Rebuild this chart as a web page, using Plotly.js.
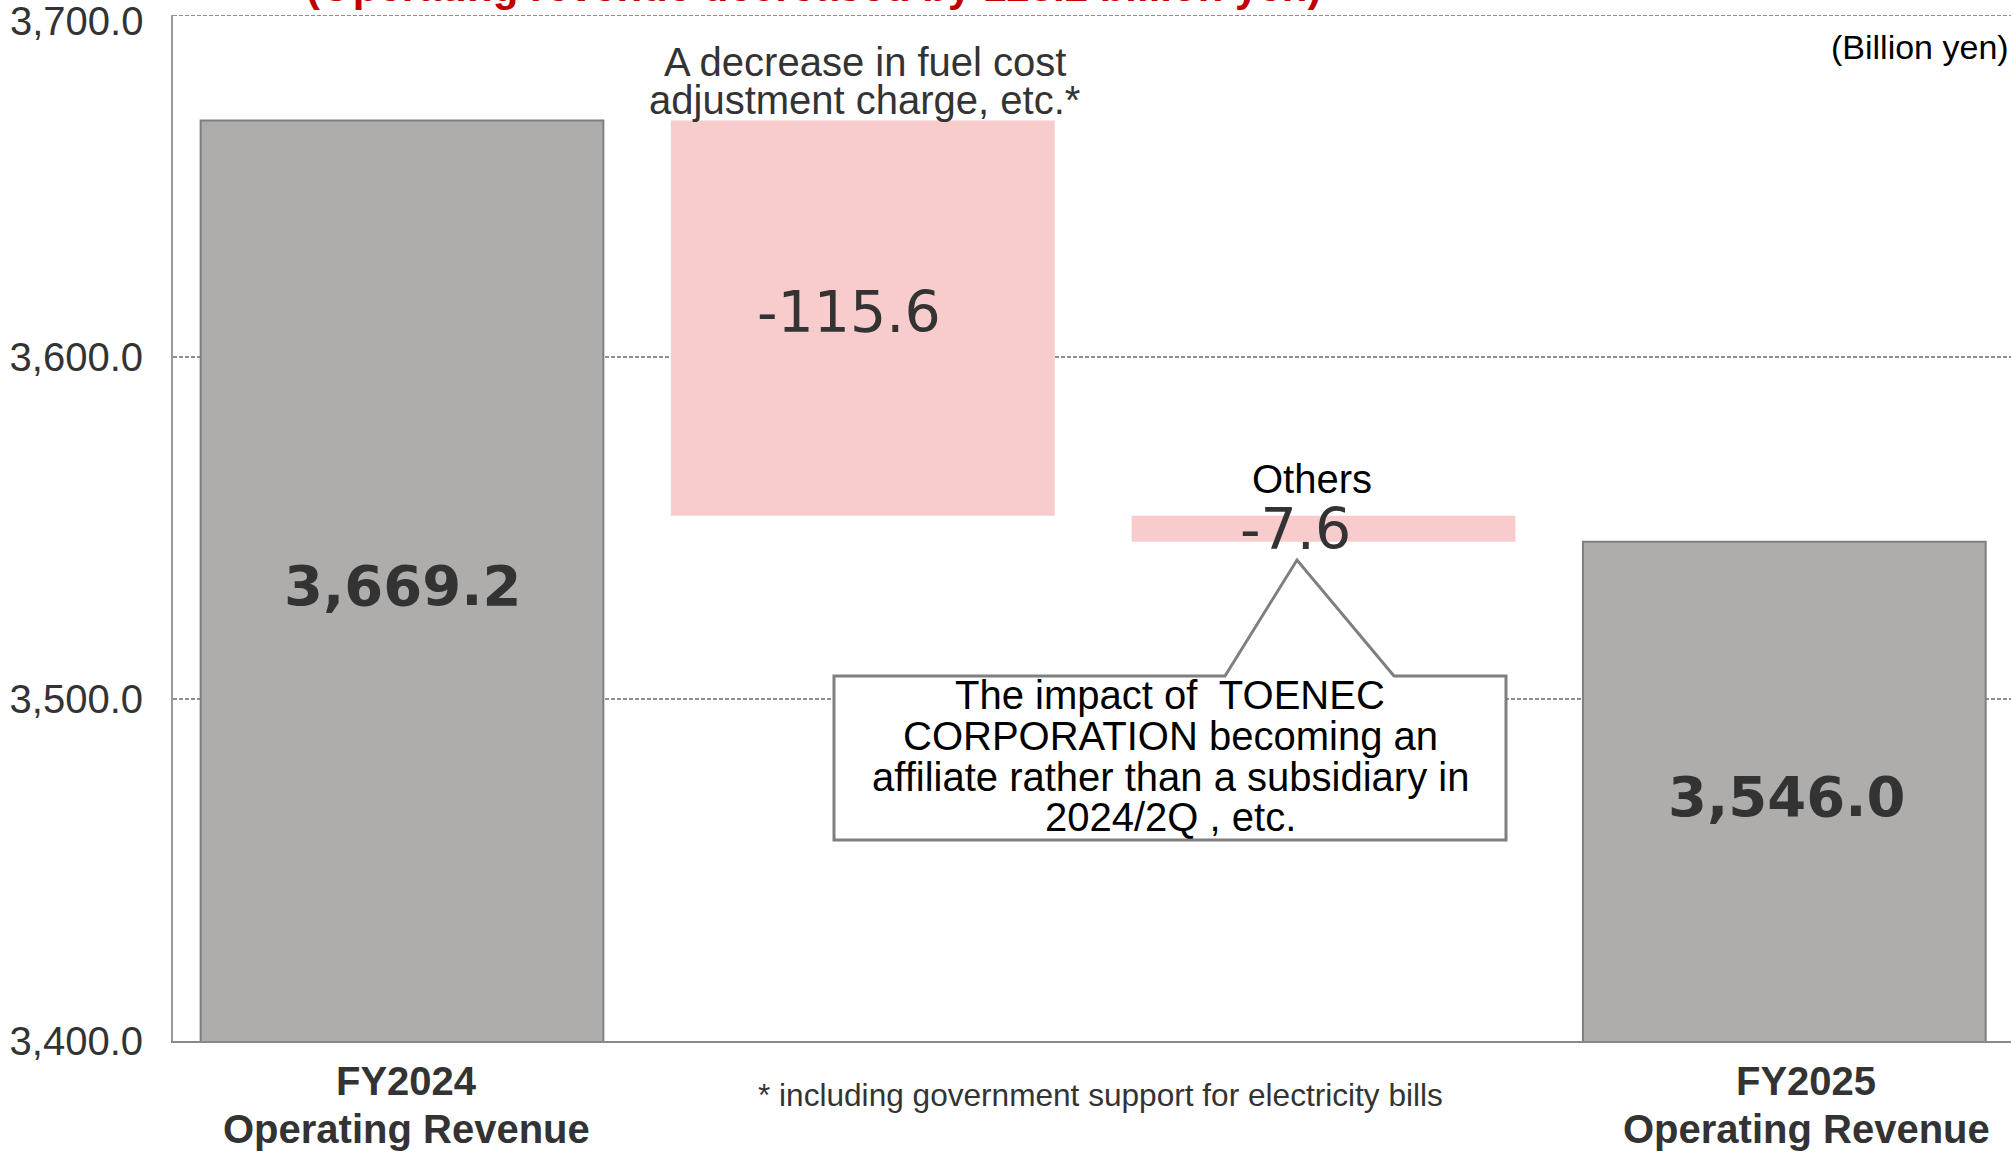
<!DOCTYPE html>
<html>
<head>
<meta charset="utf-8">
<script src="https://cdn.plot.ly/plotly-3.0.1.min.js"></script>
<style>html,body{margin:0;padding:0;background:#fff;}#chart{width:2011px;height:1152px;}</style>
</head>
<body>
<div id="chart"></div>
<script>
// ---- Data ----
const categories = ['FY2024 Operating Revenue', 'A decrease in fuel cost adjustment charge, etc.*', 'Others', 'FY2025 Operating Revenue'];
const startValue = 3669.2;          // FY2024 operating revenue (billion yen)
const changeValues = [-115.6, -7.6]; // factors
const endValue = 3546.0;            // FY2025 operating revenue (billion yen)
const tickValues = [3400, 3500, 3600, 3700];
const tickLabels = ['3,400.0', '3,500.0', '3,600.0', '3,700.0'];
const xTickLines = [['FY2024', 'Operating Revenue'], ['FY2025', 'Operating Revenue']];
const changeLabels = [['A decrease in fuel cost', 'adjustment charge, etc.*'], ['Others']];
const calloutLines = ['The impact of  TOENEC', 'CORPORATION becoming an', 'affiliate rather than a subsidiary in', '2024/2Q , etc.'];
const titleText = '(Operating revenue decreased by 123.2 billion yen)';
const unitText = '(Billion yen)';
const footnote = '* including government support for electricity bills';

// ---- Derived ----
const yMin = 3400, yMax = 3700;
const totalX = [0, categories.length - 1];
const totalY = [startValue, endValue];
const changeX = [], changeBase = [], changeH = [];
let running = startValue;
changeValues.forEach((c, i) => {
  const next = running + c;
  changeX.push(i + 1);
  changeBase.push(Math.min(running, next));
  changeH.push(Math.abs(c));
  running = next;
});

const fmt = v => v.toLocaleString('en-US', {minimumFractionDigits: 1, maximumFractionDigits: 1});

// plot geometry (for decoration placement)
const M = {l: 173, r: 0, t: 15, b: 111};
const W = 2011, H = 1152;
const pw = W - M.l - M.r, ph = H - M.t - M.b;
const yTop = yMax + 0.05;
const xRange = [-0.497, 3.492];
const px2x = px => xRange[0] + (px - M.l) / pw * (xRange[1] - xRange[0]);
const py2y = py => yMin + (H - M.b - py) / ph * (yTop - yMin);

const traces = [
  {
    type: 'bar', x: totalX, y: totalY, width: 0.874,
    marker: {color: '#AEADAB', line: {color: '#7F7F7F', width: 2}},
    hoverinfo: 'skip', showlegend: false
  },
  {
    type: 'bar', x: changeX, y: changeH, base: changeBase, width: 0.833,
    marker: {color: '#F8CBCD', line: {width: 0}},
    hoverinfo: 'skip', showlegend: false
  }
];

const annotations = [];
const numFont = {family: 'DejaVu Sans', color: '#333333'};
const sans = 'Liberation Sans, Arial';
const tickFont = {family: sans, size: 40, color: '#333333'};
// top tick label kept inside the canvas (as in the reference)
const topIdx = tickValues.length - 1;
annotations.push({
  x: 0, y: tickValues[topIdx], xref: 'paper', yref: 'y', xanchor: 'right', yanchor: 'middle',
  xshift: -28, yshift: -6, showarrow: false, text: tickLabels[topIdx], font: tickFont
});
const axisTickText = tickLabels.map((t, i) => i === topIdx ? '' : t);
// totals labels
totalX.forEach((x, i) => {
  annotations.push({
    x: x, y: (yMin + totalY[i]) / 2, xref: 'x', yref: 'y', showarrow: false,
    yshift: -5, xshift: i === 0 ? 0 : 2,
    text: fmt(totalY[i]), font: Object.assign({size: 56, weight: 'bold'}, numFont)
  });
  // category labels under axis
  xTickLines[i].forEach((ln, j) => {
    annotations.push({
      x: x, y: 0, xref: 'x', yref: 'paper', yanchor: 'middle', showarrow: false,
      yshift: -40 - j * 48, xshift: i === 0 ? 4 : 22,
      text: ln, font: {family: sans, size: 40, color: '#333333', weight: 'bold'}
    });
  });
});
// change labels
changeX.forEach((x, i) => {
  annotations.push({
    x: x, y: changeBase[i] + changeH[i] / 2, xref: 'x', yref: 'y', showarrow: false,
    xshift: i === 1 ? -28 : -14, yshift: i === 0 ? 6 : 0,
    text: fmt(changeValues[i]), font: Object.assign({size: 57}, numFont)
  });
  const top = changeBase[i] + changeH[i];
  const lines = changeLabels[i];
  lines.forEach((ln, j) => {
    const fromBottom = lines.length - 1 - j;
    annotations.push({
      x: x, y: top, xref: 'x', yref: 'y', showarrow: false, yanchor: 'middle',
      yshift: (i === 0 ? 20 : 37) + fromBottom * 38.5,
      xshift: i === 0 ? 2 : -12,
      text: ln, font: {family: sans, size: 40, color: i === 0 ? '#333333' : '#000000'}
    });
  });
});
// callout text
const calloutY = [695, 736, 777, 817];
calloutLines.forEach((ln, j) => {
  annotations.push({
    x: px2x(1170), y: py2y(calloutY[j]), xref: 'x', yref: 'y', showarrow: false,
    text: ln, font: {family: sans, size: 40, color: '#000000'}
  });
});
// title (partially cut at top)
annotations.push({
  x: px2x(813), y: 1, xref: 'x', yref: 'paper', yanchor: 'bottom', yshift: 3, showarrow: false,
  text: titleText, font: {family: sans, size: 42, weight: 'bold', color: '#C00000'}
});
// unit
annotations.push({
  x: 1, y: py2y(47), xref: 'paper', yref: 'y', xanchor: 'right', xshift: 0, showarrow: false,
  text: unitText, font: {family: sans, size: 34, color: '#000000'}
});
// footnote
annotations.push({
  x: px2x(1100), y: 0, xref: 'x', yref: 'paper', yanchor: 'middle', yshift: -54, showarrow: false,
  text: footnote, font: {family: sans, size: 31.6, color: '#333333'}
});

const calloutPts = [[834,676],[1225,676],[1297,560],[1394,676],[1506,676],[1506,840],[834,840]];
const path = 'M ' + calloutPts.map(p => px2x(p[0]) + ',' + py2y(p[1])).join(' L ') + ' Z';

const gridColor = '#8f8f8f';
const gridDash = '4px,2px';

const layout = {
  width: W, height: H,
  margin: M,
  paper_bgcolor: '#ffffff', plot_bgcolor: '#ffffff',
  barmode: 'overlay',
  showlegend: false,
  xaxis: {
    range: xRange, showticklabels: false,
    showgrid: false, zeroline: false, showline: true, linecolor: '#898989', linewidth: 2,
    ticks: '', fixedrange: true
  },
  yaxis: {
    range: [yMin, yTop], tickvals: tickValues, ticktext: axisTickText,
    tickfont: tickFont,
    ticklabeloverflow: 'allow',
    showgrid: true, gridcolor: gridColor, gridwidth: 1.5, griddash: gridDash,
    zeroline: false, showline: true, linecolor: '#9a9a9a', linewidth: 2,
    ticks: '', ticklabelstandoff: 20, fixedrange: true
  },
  shapes: [
    {
      type: 'line', xref: 'paper', yref: 'y', x0: 0, x1: 1, y0: yMax, y1: yMax,
      line: {color: gridColor, width: 1.5, dash: gridDash}, layer: 'below'
    },
    {
      type: 'path', xref: 'x', yref: 'y', path: path,
      fillcolor: '#ffffff', line: {color: '#7F7F7F', width: 3}, layer: 'above'
    }
  ],
  annotations: annotations
};

Plotly.newPlot('chart', traces, layout, {displayModeBar: false, staticPlot: true});
</script>
</body>
</html>
